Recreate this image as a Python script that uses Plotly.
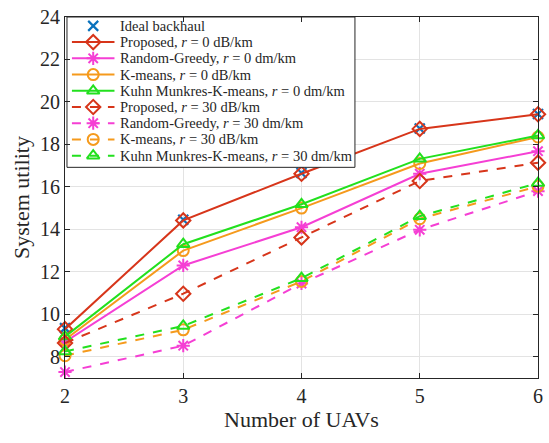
import plotly.graph_objects as go

# Number of UAVs
uavs = [2, 3, 4, 5, 6]

# System utility per scheme
ideal_backhaul = [9.35, 14.45, 16.65, 18.75, 19.43]
proposed_r0 = [9.3, 14.42, 16.62, 18.73, 19.42]
random_greedy_r0 = [8.7, 12.3, 14.1, 16.62, 17.68]
kmeans_r0 = [8.8, 13.0, 15.0, 17.1, 18.35]
kuhn_kmeans_r0 = [8.95, 13.3, 15.18, 17.32, 18.42]
proposed_r30 = [8.65, 10.97, 13.62, 16.28, 17.14]
random_greedy_r30 = [7.28, 8.52, 11.45, 13.98, 15.8]
kmeans_r30 = [8.05, 9.27, 11.55, 14.5, 16.03]
kuhn_kmeans_r30 = [8.25, 9.45, 11.7, 14.62, 16.18]

y_ticks = [8, 10, 12, 14, 16, 18, 20, 22, 24]

RED = "#d7351a"
PINK = "#f53fd4"
ORANGE = "#f59a1c"
GREEN = "#22e01e"
BLUE = "#0a72bd"
INK = "#262626"
SERIF = "Liberation Serif, DejaVu Serif, serif"

W, H = 549, 443
M = dict(l=65, r=6, t=13, b=65)

fig = go.Figure()

fig.add_trace(go.Scatter(
    x=uavs, y=ideal_backhaul, mode="markers", name="Ideal backhaul",
    marker=dict(symbol="x-thin-open", size=10, color=BLUE,
                line=dict(color=BLUE, width=2.2)),
    cliponaxis=False, showlegend=False,
))

series = [
    ("Proposed, <i>r</i> = 0 dB/km", proposed_r0, RED, "diamond-open", "solid"),
    ("Random-Greedy, <i>r</i> = 0 dm/km", random_greedy_r0, PINK, "asterisk-open", "solid"),
    ("K-means, <i>r</i> = 0 dB/km", kmeans_r0, ORANGE, "circle-open", "solid"),
    ("Kuhn Munkres-K-means, <i>r</i> = 0 dm/km", kuhn_kmeans_r0, GREEN, "triangle-up-open", "solid"),
    ("Proposed, <i>r</i> = 30 dB/km", proposed_r30, RED, "diamond-open", "dash"),
    ("Random-Greedy, <i>r</i> = 30 dm/km", random_greedy_r30, PINK, "asterisk-open", "dash"),
    ("K-means, <i>r</i> = 30 dB/km", kmeans_r30, ORANGE, "circle-open", "dash"),
    ("Kuhn Munkres-K-means, <i>r</i> = 30 dm/km", kuhn_kmeans_r30, GREEN, "triangle-up-open", "dash"),
]

for name, ys, color, symbol, dash in series:
    fig.add_trace(go.Scatter(
        x=uavs, y=ys, mode="lines+markers", name=name,
        line=dict(color=color, width=2, dash=dash),
        marker=dict(symbol=symbol, size=11, color=color,
                    line=dict(color=color, width=2)),
        cliponaxis=False, showlegend=False,
    ))

# ---- legend box drawn on an overlay axis measured in pixels ----
px_x = [M["l"], W - M["r"]]
px_y = [H - M["b"], M["t"]]
box_l, box_r, box_t, box_b = 67, 358, 13, 165
row0, row_step = 22, 16.4
samp_l, samp_r, samp_mid, text_x = 72, 115, 93.5, 119

fig.add_trace(go.Scatter(
    x=[box_l, box_r, box_r, box_l, box_l], y=[box_t, box_t, box_b, box_b, box_t],
    xaxis="x2", yaxis="y2", mode="lines", fill="toself", fillcolor="white",
    line=dict(color=INK, width=1), hoverinfo="skip", showlegend=False,
))

legend_rows = [("Ideal backhaul", BLUE, "x-thin-open", None)] + [
    (name, color, symbol, dash) for name, _, color, symbol, dash in series
]

for i, (name, color, symbol, dash) in enumerate(legend_rows):
    yc = row0 + i * row_step
    if dash is not None:
        fig.add_trace(go.Scatter(
            x=[samp_l, samp_r], y=[yc, yc], xaxis="x2", yaxis="y2", mode="lines",
            line=dict(color=color, width=2, dash=dash),
            hoverinfo="skip", showlegend=False,
        ))
        msize, mwidth = 11, 2
    else:
        msize, mwidth = 10, 2.2
    fig.add_trace(go.Scatter(
        x=[samp_mid], y=[yc], xaxis="x2", yaxis="y2", mode="markers",
        marker=dict(symbol=symbol, size=msize, color=color,
                    line=dict(color=color, width=mwidth)),
        hoverinfo="skip", showlegend=False,
    ))
    fig.add_annotation(
        x=text_x, y=yc, xref="x2", yref="y2", text=name, showarrow=False,
        xanchor="left", yanchor="middle",
        font=dict(family=SERIF, size=14.5, color=INK),
    )

axis_common = dict(
    showgrid=True, gridcolor="#e3e3e3", gridwidth=1,
    showline=True, linecolor=INK, linewidth=1, mirror="ticks",
    ticks="inside", ticklen=5, tickcolor=INK,
    zeroline=False,
    tickfont=dict(family=SERIF, size=20, color=INK),
    title_font=dict(family=SERIF, size=22, color=INK),
)

fig.update_xaxes(range=[2, 6], tickvals=uavs, title_text="Number of UAVs",
                 title_standoff=3, **axis_common)
fig.update_yaxes(range=[7, 24], tickvals=y_ticks, title_text="System utility",
                 title_standoff=4, **axis_common)

fig.update_layout(
    width=W, height=H,
    margin=M,
    paper_bgcolor="white", plot_bgcolor="white",
    showlegend=False,
    xaxis2=dict(overlaying="x", anchor="y2", visible=False, range=px_x),
    yaxis2=dict(overlaying="y", anchor="x2", visible=False, range=px_y),
)

fig.write_html("out.html")
